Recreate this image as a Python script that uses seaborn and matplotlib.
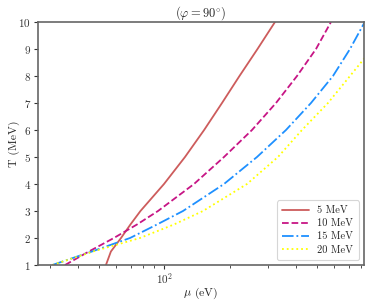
import matplotlib
matplotlib.use('Agg')
import matplotlib.pyplot as plt
import seaborn as sns
import pandas as pd
import numpy as np

# temperatura (MeV) si potentialul chimic mu (eV)
T_vals = [1, 1.5, 2, 2.5, 3, 4, 5, 6, 7, 8, 9, 10]

mu_5 = [53.9, 56.8, 63.2, 69.8, 77.6, 99.5, 124.2, 152.0, 183.6, 220.8, 267.1, 321.3]
mu_10 = [35.0, 45.0, 58.6, 74.8, 93.4, 136.6, 187.5, 252.0, 324.7, 405.4, 495.5, 580.3]
mu_15 = [30.6, 46.5, 69.5, 92.4, 121.6, 187.5, 265.7, 360.9, 469.9, 592.8, 709.5, 829.0]
T_20 = [1, 1.5, 2, 2.5, 3, 4, 5, 6, 7, 8, 9]
mu_20 = [30.6, 47.0, 77.2, 110.5, 150.2, 239.0, 331.6, 427.3, 562.3, 709.5, 894.8]

labels = ['5 MeV', '10 MeV', '15 MeV', '20 MeV']
colors = ['indianred', 'mediumvioletred', 'dodgerblue', 'yellow']
styles = ['-', '--', '-.', ':']

sns.set_style('ticks')
plt.rcParams['font.family'] = 'serif'
plt.rcParams['font.serif'] = ['cmr10']
plt.rcParams['mathtext.fontset'] = 'cm'
plt.rcParams['axes.unicode_minus'] = False
plt.rcParams['axes.formatter.use_mathtext'] = True

fig = plt.figure(figsize=(3.74, 3.02), dpi=100)
ax = fig.add_axes([0.1016, 0.1225, 0.8714, 0.8045])

series = [(mu_5, T_vals), (mu_10, T_vals), (mu_15, T_vals), (mu_20, T_20)]
for (mu, T), lab, col, ls in zip(series, labels, colors, styles):
    df = pd.DataFrame({'mu': mu, 'T': T})
    sns.lineplot(data=df, x='mu', y='T', ax=ax, color=col, linestyle=ls,
                 linewidth=1.3, label=lab, estimator=None, sort=False)

ax.set_xscale('log')
ax.set_xlim(26.3, 822)
ax.set_ylim(1, 10)
ax.set_yticks(range(1, 11))
ax.set_xlabel(r'$\mu$ (eV)', fontsize=8.5, labelpad=-0.5)
ax.set_ylabel('T (MeV)', fontsize=8.5, labelpad=-1)
ax.set_title(r'$(\varphi = 90^{\circ})$', fontsize=9, pad=3)

for sp in ax.spines.values():
    sp.set_color('#666666')
    sp.set_linewidth(1.2)
ax.tick_params(axis='both', which='major', labelsize=8, length=3, width=0.8,
               color='#333333', labelcolor='#333333', pad=2)
ax.tick_params(axis='x', which='major', pad=1.5)
ax.tick_params(axis='x', which='minor', length=2, width=0.6, color='#333333')

leg = ax.legend(loc='lower right', fontsize=7.5, frameon=True, fancybox=True,
                handlelength=2.6, borderpad=0.5, labelspacing=0.35)
leg.get_frame().set_edgecolor('#cccccc')
leg.get_frame().set_linewidth(0.8)

fig.savefig('out.png', dpi=100)
